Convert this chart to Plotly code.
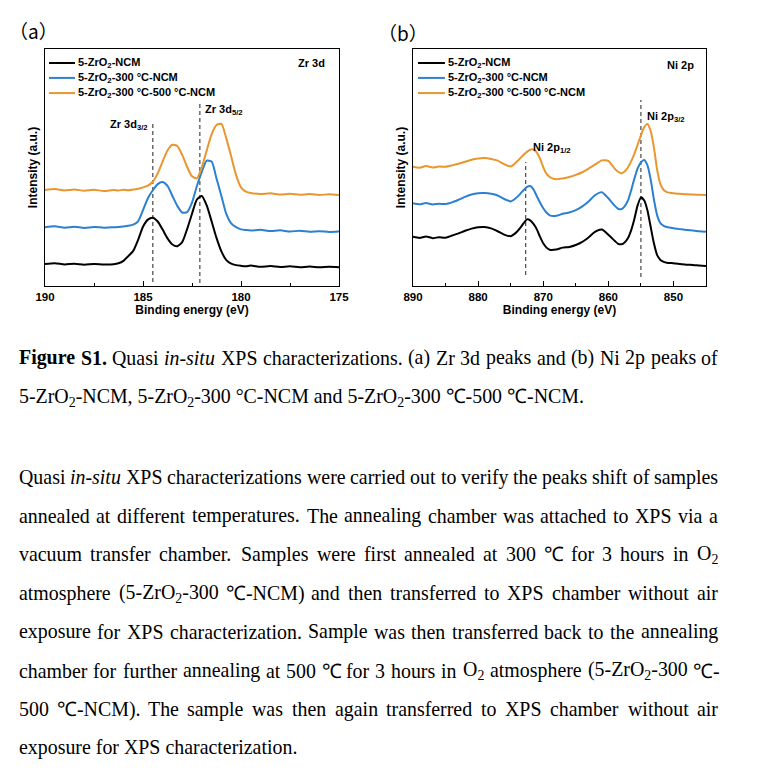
import re
import plotly.graph_objects as go

# ---------------- Data ----------------
series_names = ["5-ZrO<sub>2</sub>-NCM",
                "5-ZrO<sub>2</sub>-300 °C-NCM",
                "5-ZrO<sub>2</sub>-300 °C-500 °C-NCM"]
series_colors = ["#000000", "#2B80D2", "#E9962F"]

# Zr 3d panel (binding energy, eV / intensity, a.u.)
zr_energy = [190.0, 189.5, 189.0, 188.5, 188.0, 187.5, 187.0, 186.5,
             186.25, 186.0, 185.75, 185.5, 185.25, 185.0, 184.75, 184.5, 184.25, 184.0,
             183.75, 183.5, 183.25, 183.0, 182.75, 182.5, 182.25, 182.0, 181.75, 181.5,
             181.25, 181.0, 180.75, 180.5, 180.25, 180.0, 179.75,
             179.5, 179.0, 178.5, 178.0, 177.5, 177.0, 176.5, 176.0, 175.5, 175.0]
zr_black = [9.3, 9.6, 9.1, 9.4, 9.0, 9.3, 9.1, 9.2,
            9.6, 10.6, 12.6, 14.8, 19.5, 25.0, 28.0, 28.8, 27.2, 23.8, 20.1, 17.5, 16.8, 18.5,
            24.0, 30.5, 36.5, 38.0, 34.0, 27.3, 20.3, 14.6, 10.9, 9.4, 8.8, 8.5, 8.3,
            8.6, 8.1, 8.4, 8.0, 8.3, 7.9, 8.2, 7.9, 8.1, 7.9]
zr_blue = [24.8, 25.2, 24.6, 25.0, 24.5, 24.9, 24.6, 24.8,
           24.9, 25.1, 25.4, 25.9, 27.3, 32.0, 37.0, 40.4, 43.0, 43.9, 42.2, 38.0, 33.8, 31.0,
           31.2, 35.2, 42.2, 48.2, 52.9, 52.5, 45.4, 38.0, 30.4, 26.4, 24.8, 23.9, 23.6,
           23.4, 23.7, 23.2, 23.5, 23.0, 23.3, 22.9, 23.1, 22.8, 23.0]
zr_orange = [40.5, 40.9, 40.3, 40.7, 40.2, 40.6, 40.1, 40.5,
             40.3, 40.6, 40.4, 40.7, 41.0, 41.6, 42.4, 44.0, 47.5, 52.5, 57.2, 59.6, 59.1, 55.3,
             50.3, 46.3, 45.4, 50.0, 57.2, 64.0, 67.9, 68.4, 62.3, 54.6, 46.8, 41.6, 39.8,
             39.2, 38.8, 39.1, 38.6, 38.9, 38.5, 38.8, 38.4, 38.7, 38.4]
zr_ref_energy = [184.5, 182.1]
zr_ref_top = [69.6, 77.6]
zr_ref_bottom = [1.7, 1.3]
zr_ticks = [190, 185, 180, 175]

# Ni 2p panel
ni_energy = [890, 889, 888, 887, 886, 885, 884, 883, 882, 881, 880, 879, 878, 877, 876, 875,
             874.5, 874, 873.5, 873, 872.5, 872, 871.5, 871, 870.5, 870, 869.5, 869,
             868, 867, 866, 865, 864, 863, 862, 861, 860, 859,
             858.5, 858, 857.5, 857, 856.5, 856, 855.5, 855, 854.5, 854, 853.5, 853, 852.5, 852, 851.5,
             851, 850, 849, 848, 847, 846, 845]
ni_black = [20.8, 20.3, 20.9, 20.2, 20.6, 20.4, 21.3, 22.2, 23.3, 24.2, 24.8, 24.9, 24.3, 23.1, 21.7, 21.0,
            21.8, 23.0, 24.6, 26.5, 28.1, 27.7, 26.2, 24.0, 20.8, 18.0, 16.2, 15.3,
            15.4, 16.2, 16.5, 17.3, 18.6, 20.6, 22.9, 23.8, 21.6, 19.0,
            17.8, 17.6, 18.4, 20.2, 23.5, 28.3, 34.0, 37.4, 36.2, 32.0, 25.0, 18.0, 13.0, 11.0, 10.2,
            9.8, 9.6, 9.3, 9.0, 8.9, 8.6, 8.4]
ni_blue = [34.9, 34.5, 35.0, 34.4, 34.7, 34.6, 35.3, 36.4, 37.6, 38.6, 39.1, 39.2, 38.9, 38.2, 36.7, 35.7,
           36.4, 37.6, 39.0, 40.5, 41.8, 42.2, 40.8, 38.0, 35.2, 32.8, 31.0, 29.8,
           29.6, 30.5, 31.0, 32.0, 33.6, 35.8, 38.4, 39.6, 37.0, 33.8,
           32.6, 32.4, 33.6, 36.0, 40.3, 45.3, 49.6, 52.2, 53.2, 51.0, 45.0, 36.5, 29.8, 26.5, 25.4,
           24.9, 24.4, 24.0, 23.6, 23.4, 23.1, 22.9]
ni_orange = [50.3, 49.9, 50.6, 50.0, 50.4, 50.3, 50.9, 51.6, 52.4, 53.3, 53.8, 54.0, 53.6, 52.9, 51.4, 50.4,
             51.3, 52.6, 54.0, 55.4, 56.6, 57.5, 57.6, 56.4, 53.8, 50.2, 47.4, 46.0,
             45.0, 45.4, 46.0, 46.9, 48.0, 49.6, 51.3, 53.0, 52.8, 49.4,
             48.2, 47.5, 48.3, 50.0, 52.6, 55.8, 59.6, 63.5, 67.0, 68.4, 65.5, 58.5, 49.0, 43.0, 40.5,
             39.6, 39.1, 38.9, 38.7, 38.6, 38.5, 38.4]
ni_ref_energy = [872.7, 855.0]
ni_ref_top = [52.3, 78.5]
ni_ref_bottom = [4.6, 3.8]
ni_ticks = [890, 880, 870, 860, 850]

# page text (tags never span a space); True = justified line
caption_lines = [
    ("<b>Figure</b> <b>S1.</b> Quasi <i>in-situ</i> XPS characterizations. (a) Zr 3d peaks and (b) Ni 2p peaks of", True),
    ("5-ZrO<sub>2</sub>-NCM, 5-ZrO<sub>2</sub>-300 °C-NCM and 5-ZrO<sub>2</sub>-300 ℃-500 ℃-NCM.", False),
]
paragraph_lines = [
    ("Quasi <i>in-situ</i> XPS characterizations were carried out to verify the peaks shift of samples", True),
    ("annealed at different temperatures. The annealing chamber was attached to XPS via a", True),
    ("vacuum transfer chamber. Samples were first annealed at 300 ℃ for 3 hours in O<sub>2</sub>", True),
    ("atmosphere (5-ZrO<sub>2</sub>-300 ℃-NCM) and then transferred to XPS chamber without air", True),
    ("exposure for XPS characterization. Sample was then transferred back to the annealing", True),
    ("chamber for further annealing at 500 ℃ for 3 hours in O<sub>2</sub> atmosphere (5-ZrO<sub>2</sub>-300 ℃-", True),
    ("500 ℃-NCM). The sample was then again transferred to XPS chamber without air", True),
    ("exposure for XPS characterization.", False),
]

# ---------------- Figure ----------------
# the page body adds an 8px margin, so the figure is slightly smaller and
# all positions below are given in window pixels minus that margin
PAD = 8
W, H = 776 - 2 * PAD, 773 - 2 * PAD
def px(x):
    return (x - PAD) / W
def py(y):
    return 1 - (y - PAD) / H

SANS = "Liberation Sans, Arial, sans-serif"
SERIF = "Liberation Serif, Times New Roman, serif"

fig = go.Figure()

panels = [
    ("x", "y", zr_energy, [zr_black, zr_blue, zr_orange], zr_ref_energy, zr_ref_top, zr_ref_bottom),
    ("x2", "y2", ni_energy, [ni_black, ni_blue, ni_orange], ni_ref_energy, ni_ref_top, ni_ref_bottom),
]
for xa, ya, en, curves, ref_e, ref_t, ref_b in panels:
    for e, t, b in zip(ref_e, ref_t, ref_b):
        fig.add_trace(go.Scatter(x=[e, e], y=[b, t], mode="lines", xaxis=xa, yaxis=ya,
                                 line=dict(color="#555555", width=1.3, dash="4px,3px"),
                                 showlegend=False, hoverinfo="skip"))
    for name, col, ys in zip(series_names, series_colors, curves):
        fig.add_trace(go.Scatter(x=en, y=ys, mode="lines", name=name, xaxis=xa, yaxis=ya,
                                 line=dict(color=col, width=2.0, shape="spline", smoothing=0.6),
                                 showlegend=False))

xdom1 = [px(45), px(339)]
xdom2 = [px(413), px(706)]
ydom = [py(286), py(49)]

axis_common = dict(showline=True, linecolor="black", linewidth=1.4, mirror=True,
                   showgrid=False, zeroline=False, automargin=False)
tickfont = dict(family=SANS, size=11.5, color="black", weight="bold")
titlefont = dict(family=SANS, size=12, color="black", weight="bold")

fig.update_layout(
    width=W, height=H,
    margin=dict(l=0, r=0, t=0, b=0, autoexpand=False),
    paper_bgcolor="white", plot_bgcolor="white",
    showlegend=False,
    xaxis=dict(domain=xdom1, range=[190, 175], anchor="y", tickvals=zr_ticks,
               ticks="inside", ticklen=5, tickwidth=1.2, tickcolor="black",
               minor=dict(dtick=2.5, ticks="inside", ticklen=3, tickwidth=1, tickcolor="black"),
               tickfont=tickfont,
               title=dict(text="Binding energy (eV)", font=titlefont, standoff=1),
               **axis_common),
    yaxis=dict(domain=ydom, range=[0, 100], anchor="x", showticklabels=False, ticks="",
               title=dict(text="Intensity (a.u.)", font=titlefont, standoff=3),
               **axis_common),
    xaxis2=dict(domain=xdom2, range=[890, 845], anchor="y2", tickvals=ni_ticks,
                ticks="inside", ticklen=5, tickwidth=1.2, tickcolor="black",
                minor=dict(dtick=5, ticks="inside", ticklen=3, tickwidth=1, tickcolor="black"),
                tickfont=tickfont,
                title=dict(text="Binding energy (eV)", font=titlefont, standoff=1),
                **axis_common),
    yaxis2=dict(domain=ydom, range=[0, 100], anchor="x2", showticklabels=False, ticks="",
                title=dict(text="Intensity (a.u.)", font=titlefont, standoff=3),
                **axis_common),
)

annotations = []
shapes = []

# Manual legends inside each panel
legend_rows = [0.941, 0.878, 0.814]
for (xref, yref, x0, x1, xt) in [("x domain", "y domain", 0.0136, 0.102, 0.106),
                                 ("x2 domain", "y2 domain", 0.017, 0.109, 0.111)]:
    for name, col, yy in zip(series_names, series_colors, legend_rows):
        shapes.append(dict(type="line", xref=xref, yref=yref, x0=x0, x1=x1, y0=yy, y1=yy,
                           line=dict(color=col, width=2)))
        annotations.append(dict(xref=xref, yref=yref, x=xt, y=yy, text=name, showarrow=False,
                                xanchor="left", yanchor="middle",
                                font=dict(family=SANS, size=11, color="black", weight="bold")))

lab_font = dict(family=SANS, size=11, color="black", weight="bold")
annotations += [
    dict(xref="x", yref="y", x=184.62, y=67.9, text="Zr 3d<sub>3/2</sub>", xanchor="right",
         yanchor="middle", showarrow=False, font=lab_font),
    dict(xref="x", yref="y", x=181.95, y=74.3, text="Zr 3d<sub>5/2</sub>", xanchor="left",
         yanchor="middle", showarrow=False, font=lab_font),
    dict(xref="x", yref="y", x=175.6, y=94.3, text="Zr 3d", xanchor="right",
         yanchor="middle", showarrow=False, font=lab_font),
    dict(xref="x2", yref="y2", x=871.9, y=58.2, text="Ni 2p<sub>1/2</sub>", xanchor="left",
         yanchor="middle", showarrow=False, font=lab_font),
    dict(xref="x2", yref="y2", x=854.4, y=71.5, text="Ni 2p<sub>3/2</sub>", xanchor="left",
         yanchor="middle", showarrow=False, font=lab_font),
    dict(xref="x2", yref="y2", x=846.5, y=93.4, text="Ni 2p", xanchor="right",
         yanchor="middle", showarrow=False, font=lab_font),
]

# panel labels
panel_font = dict(family="Noto Sans CJK SC, Noto Sans, sans-serif", size=19, color="black")
annotations += [
    dict(xref="paper", yref="paper", x=px(7), y=py(31), text="（a）", xanchor="left",
         yanchor="middle", showarrow=False, font=panel_font),
    dict(xref="paper", yref="paper", x=px(376), y=py(32), text="（b）", xanchor="left",
         yanchor="middle", showarrow=False, font=panel_font),
]

# ---- caption and paragraph, justified like the page ----
ROMAN = {" ": 250, "(": 333, ")": 333, ",": 250, "-": 333, ".": 250, "/": 278, ":": 278,
         "°": 400, "℃": 900,
         "A": 722, "B": 667, "C": 667, "D": 722, "E": 611, "F": 556, "G": 722, "H": 722,
         "I": 333, "J": 389, "K": 722, "L": 611, "M": 889, "N": 722, "O": 722, "P": 556,
         "Q": 722, "R": 667, "S": 556, "T": 611, "U": 722, "V": 722, "W": 944, "X": 722,
         "Y": 722, "Z": 611,
         "a": 444, "b": 500, "c": 444, "d": 500, "e": 444, "f": 333, "g": 500, "h": 500,
         "i": 278, "j": 278, "k": 500, "l": 278, "m": 778, "n": 500, "o": 500, "p": 500,
         "q": 500, "r": 333, "s": 389, "t": 278, "u": 500, "v": 500, "w": 722, "x": 500,
         "y": 500, "z": 444}
for d in "0123456789":
    ROMAN[d] = 500
BOLDW = dict(ROMAN, **{"F": 611, "u": 556, "r": 444, "S": 556, "g": 500, "e": 444})


def word_width(markup, size):
    w, sub, bold = 0.0, False, False
    for tok in re.split(r"(<[^>]+>)", markup):
        if tok.startswith("<"):
            closing = tok.startswith("</")
            tag = tok.strip("</>").lower()
            if tag == "sub":
                sub = not closing
            elif tag == "b":
                bold = not closing
            continue
        for ch in tok:
            w += (BOLDW if bold else ROMAN).get(ch, 500) * (0.7 if sub else 1.0)
    return w / 1000.0 * size


TEXT_SIZE = 19.9
text_font = dict(family=SERIF, size=TEXT_SIZE, color="black")
LEFT, RIGHT = 18, 717


def add_text_line(line, justified, ypix):
    if not justified:
        annotations.append(dict(xref="paper", yref="paper", x=px(LEFT - 1), y=py(ypix), text=line,
                                xanchor="left", yanchor="middle", showarrow=False, font=text_font))
        return
    words = line.split(" ")
    widths = [word_width(wd, TEXT_SIZE) for wd in words]
    gap = (RIGHT - LEFT - sum(widths)) / (len(words) - 1)
    xpos = LEFT
    for wd, wdw in zip(words, widths):
        annotations.append(dict(xref="paper", yref="paper", x=px(xpos - 1), y=py(ypix), text=wd,
                                xanchor="left", yanchor="middle", showarrow=False, font=text_font))
        xpos += wdw + gap


for i, (line, just) in enumerate(caption_lines):
    add_text_line(line, just, 358 + 39 * i)
for i, (line, just) in enumerate(paragraph_lines):
    add_text_line(line, just, 477 + 38.7 * i)

fig.update_layout(annotations=annotations, shapes=shapes)
fig.write_html("out.html")
